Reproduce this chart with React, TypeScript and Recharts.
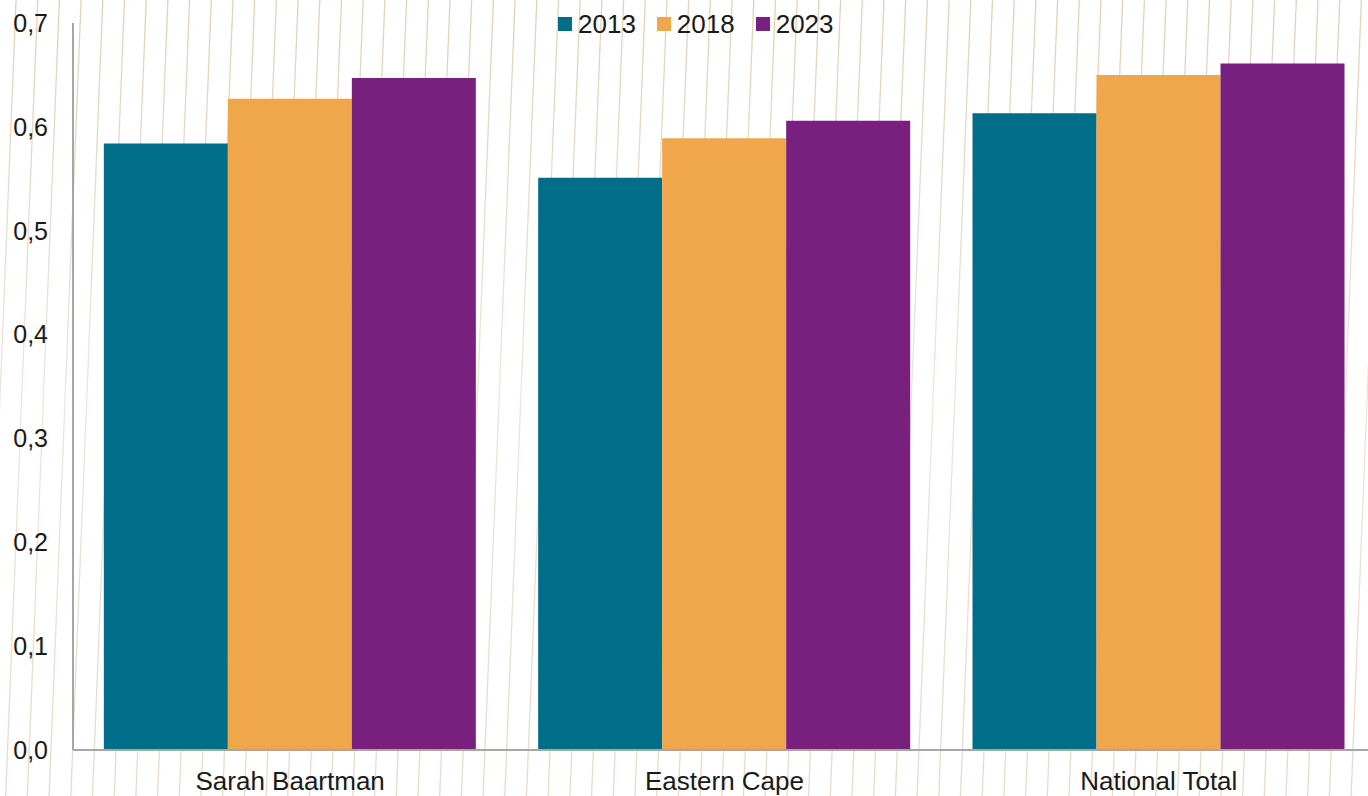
import React from "react";
import { Bar, BarChart, Legend, XAxis, YAxis } from "recharts";

const categories = ["Sarah Baartman", "Eastern Cape", "National Total"];
const values2013 = [0.584, 0.551, 0.613];
const values2018 = [0.627, 0.589, 0.65];
const values2023 = [0.647, 0.606, 0.661];
const yTicks = [0, 0.1, 0.2, 0.3, 0.4, 0.5, 0.6, 0.7];

const series = [
  { key: "2013", values: values2013, color: "#006E88" },
  { key: "2018", values: values2018, color: "#F0A64B" },
  { key: "2023", values: values2023, color: "#77207D" },
];

const data = categories.map((name, i) => {
  const row: Record<string, string | number> = { name };
  series.forEach((s) => {
    row[s.key] = s.values[i];
  });
  return row;
});

const font = "'Liberation Sans', Arial, sans-serif";

// decorative slanted stripes behind the chart
const stripeCount = 66;
const Stripes = () => (
  <svg width={1368} height={796} style={{ position: "absolute", left: 0, top: 0 }}>
    <defs>
      <linearGradient id="fade" x1="0" y1="0" x2="0" y2="1">
        <stop offset="0" stopColor="#e3d1b8" />
        <stop offset="0.5" stopColor="#efe5d8" />
        <stop offset="1" stopColor="#e8dac6" />
      </linearGradient>
    </defs>
    {Array.from({ length: stripeCount }, (_, k) => {
      const x = 6 + k * 21.7;
      return <line key={k} x1={x + 10} y1={0} x2={x - 22} y2={796} stroke="url(#fade)" strokeWidth={1.3} />;
    })}
  </svg>
);

const LegendContent = () => (
  <div style={{ display: "flex", alignItems: "center", fontFamily: font, fontSize: 26, lineHeight: "30px", color: "#1a1a1a" }}>
    {series.map((s, i) => (
      <div key={s.key} style={{ display: "flex", alignItems: "center", marginLeft: i === 0 ? 0 : 21 }}>
        <span style={{ width: 14, height: 14, background: s.color, marginRight: 6, display: "inline-block" }} />
        <span>{s.key}</span>
      </div>
    ))}
  </div>
);

export default function App() {
  return (
    <div
      style={{
        position: "absolute",
        left: 0,
        top: 0,
        width: 1368,
        height: 796,
        overflow: "hidden",
        background: "#fff",
      }}
    >
      <Stripes />
      <div style={{ position: "absolute", left: 0, top: 0 }}>
        <BarChart
          width={1384}
          height={796}
          data={data}
          margin={{ top: 23, right: 8, left: 0, bottom: 0 }}
          barCategoryGap="7.1%"
          barGap={0}
        >
          <XAxis
            dataKey="name"
            height={46}
            tickLine={false}
            tickSize={0}
            tickMargin={22}
            axisLine={{ stroke: "#A6A6A6", strokeWidth: 2 }}
            tick={{ fill: "#1a1a1a", fontSize: 26, fontFamily: font }}
          />
          <YAxis
            width={73}
            domain={[0, 0.7]}
            ticks={yTicks}
            interval={0}
            tickLine={false}
            tickSize={0}
            tickMargin={25}
            axisLine={{ stroke: "#A6A6A6", strokeWidth: 2 }}
            tick={{ fill: "#1a1a1a", fontSize: 25, fontFamily: font }}
            tickFormatter={(v: number) => v.toFixed(1).replace(".", ",")}
          />
          <Legend
            verticalAlign="middle"
            align="center"
            content={<LegendContent />}
            wrapperStyle={{ top: 9, left: 558, width: "auto", height: "auto" }}
          />
          {series.map((s) => (
            <Bar key={s.key} dataKey={s.key} name={s.key} fill={s.color} isAnimationActive={false} />
          ))}
        </BarChart>
      </div>
    </div>
  );
}
